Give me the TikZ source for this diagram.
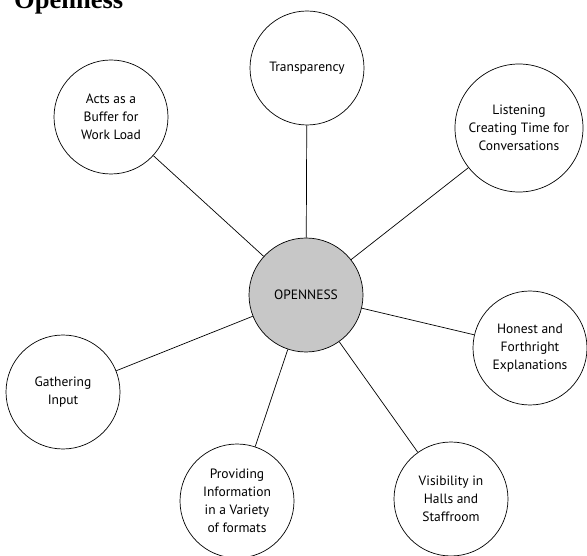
\documentclass[tikz,border=0pt]{standalone}
\usepackage{fontspec}
\setmainfont{Liberation Serif}
\newfontfamily\bubblefont{PT Sans}

\tikzset{
  bubble/.style={draw, circle, line width=0.7pt, minimum size=114pt, inner sep=0pt,
    align=center, font=\bubblefont\fontsize{13.5}{18}\selectfont},
  hub/.style={bubble, fill=black!22}
}

\begin{document}
\begin{tikzpicture}[x=1pt, y=-1pt, color=black]
\useasboundingbox (0,0) rectangle (587,556);
\node[anchor=base west, font=\bfseries\fontsize{26.5}{26.5}\selectfont, inner sep=0pt] (title) at (14,9) {Openness};
\node[hub] (open) at (306,295) {OPENNESS}; % centre
\node[bubble] (trans) at (307,68) {Transparency};
\node[bubble, minimum size=128pt] (listen) at (519,128) {Listening\\Creating Time for\\Conversations};
\node[bubble] (honest) at (530,348) {Honest and\\Forthright\\Explanations};
\node[bubble] (visib) at (451,499) {Visibility in\\Halls and\\Staffroom};
\node[bubble] (provide) at (237,501) {Providing\\Information\\in a Variety\\of formats};
\node[bubble] (gather) at (63,392) {Gathering\\Input};
\node[bubble] (buffer) at (111,117) {Acts as a\\Buffer for\\Work Load};
\foreach \leaf in {trans,listen,honest,visib,provide,gather,buffer}
  \draw[line width=0.7pt] (open) -- (\leaf);
\end{tikzpicture}
\end{document}
